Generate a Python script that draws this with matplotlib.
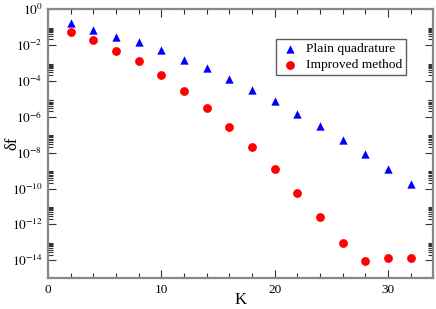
import math
import matplotlib
matplotlib.use("Agg")
import matplotlib.pyplot as plt
from matplotlib.ticker import FixedLocator, FuncFormatter, MultipleLocator

plt.rcParams['font.family'] = ['Liberation Serif', 'DejaVu Serif']
plt.rcParams['mathtext.fontset'] = 'stix'

K = [2, 4, 6, 8, 10, 12, 14, 16, 18, 20, 22, 24, 26, 28, 30, 32]
plain = [0.156, 0.068, 0.029, 0.014, 4.9e-3, 1.5e-3, 5.0e-4, 1.3e-4, 3.2e-5,
         7.4e-6, 1.5e-6, 2.9e-7, 5.0e-8, 8.5e-9, 1.3e-9, 1.8e-10]
improved = [0.055, 0.018, 4.3e-3, 1.2e-3, 2.1e-4, 2.7e-5, 3.0e-6, 2.8e-7, 2.0e-8,
            1.2e-9, 5.8e-11, 2.6e-12, 9.2e-14, 9.2e-15, 1.4e-14, 1.4e-14]

fig = plt.figure(figsize=(4.36, 3.09), dpi=100)
ax = fig.add_axes([0.110, 0.0993, 0.884, 0.8717])

ax.scatter(K, plain, marker='^', s=36, color='#0000ff', linewidths=0, label='Plain quadrature', zorder=3)
ax.scatter(K, improved, marker='o', s=40, color='#ff0000', linewidths=0, label='Improved method', zorder=3)

ax.set_yscale('log')
ax.set_xlim(0, 34)
ax.set_ylim(1e-15, 1)

major_y = [10.0 ** e for e in range(0, -15, -2)]
minor_y = [k * 10.0 ** e for e in range(-16, 0, 2) for k in range(2, 10)]
ax.yaxis.set_major_locator(FixedLocator(major_y))
ax.yaxis.set_minor_locator(FixedLocator(minor_y))

def fmt(v, pos):
    e = int(round(math.log10(v)))
    return r'$10^{%d}$' % e
ax.yaxis.set_major_formatter(FuncFormatter(fmt))

ax.xaxis.set_major_locator(MultipleLocator(10))
ax.xaxis.set_minor_locator(MultipleLocator(2))

for s in ax.spines.values():
    s.set_color('#888888')
    s.set_linewidth(1.6)

ax.tick_params(which='both', direction='in', top=True, right=True, color='#333333', width=0.8)
ax.tick_params(which='major', length=6, labelsize=9.5, pad=4)
ax.tick_params(which='minor', length=3.5)

ax.set_xlabel('K', fontsize=12)
ax.set_ylabel('δf', fontsize=12)
ax.xaxis.set_label_coords(0.5, -0.052)
ax.yaxis.set_label_coords(-0.072, 0.5)

leg = ax.legend(loc='upper right', bbox_to_anchor=(0.929, 0.889), fontsize=9.7,
                frameon=True, fancybox=False, handletextpad=0.5, borderpad=0.3,
                labelspacing=0.25, handlelength=1.4, borderaxespad=0, scatterpoints=1)
leg.get_frame().set_edgecolor('#333333')
leg.get_frame().set_linewidth(1.0)

fig.savefig('out.png', dpi=100)
